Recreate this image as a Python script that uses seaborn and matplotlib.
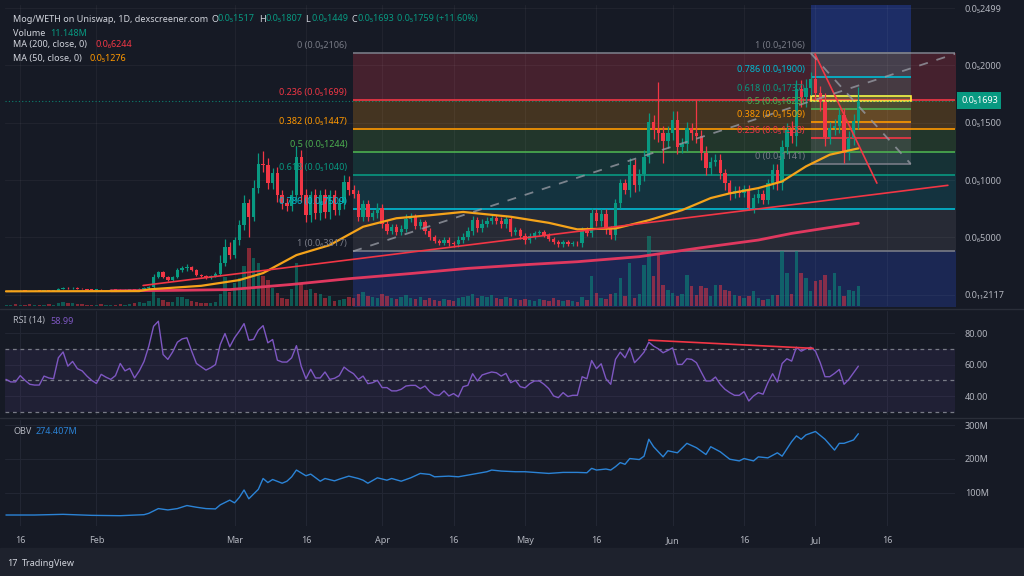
import numpy as np
import pandas as pd
import matplotlib
matplotlib.use("Agg")
import matplotlib.pyplot as plt
import matplotlib.transforms as mtransforms
from matplotlib.lines import Line2D
from matplotlib.patches import Rectangle
import seaborn as sns

# ---------------- data ----------------
# day 0 = 13 Jan 2024, prices in units where 1000 -> 0.0₅1000
closes = [
    33, 34, 32, 35, 34, 33, 35, 34, 36, 35,
    37, 52, 58, 55, 60, 54, 50, 45, 42, 44,
    40, 41, 43, 42, 40, 44, 45, 43, 50, 58,
    70, 157, 195, 152, 130, 155, 215, 235, 244, 215,
    175, 165, 150, 165, 185, 280, 413, 350, 477, 608,
    797, 680, 930, 1140, 1130, 970, 1058, 870, 800, 770,
    870, 1203, 869, 695, 868, 712, 870, 720, 870, 738,
    800, 986, 913, 880, 680, 790, 680, 710, 760, 620,
    560, 590, 545, 575, 660, 680, 600, 630, 560, 500,
    470, 455, 480, 450, 440, 480, 505, 560, 650, 580,
    620, 645, 670, 645, 615, 660, 550, 565, 515, 475,
    510, 540, 545, 520, 490, 460, 440, 460, 445, 455,
    448, 560, 540, 710, 640, 705, 570, 520, 797, 970,
    915, 1135, 956, 1050, 1205, 1508, 1436, 1410, 1340, 1410,
    1523, 1290, 1315, 1450, 1410, 1380, 1233, 1105, 1160, 1175,
    1058, 971, 880, 905, 890, 920, 753, 840, 880, 830,
    971, 1087, 975, 1290, 1436, 1380, 1790, 1720, 1800, 1880,
    1760, 1683, 1378, 1450, 1470, 1567, 1233, 1364, 1517, 1693,
]
# wick length above / below the candle body
wick_up = [
    3, 4, 3, 4, 3, 3, 4, 3, 4, 3,
    4, 8, 10, 6, 9, 5, 4, 3, 3, 3,
    3, 4, 3, 3, 4, 3, 3, 4, 5, 6,
    8, 25, 15, 10, 12, 10, 20, 15, 25, 10,
    10, 8, 10, 8, 10, 70, 75, 45, 30, 40,
    73, 40, 70, 100, 110, 60, 50, 60, 40, 40,
    40, 90, 60, 50, 40, 50, 40, 50, 40, 40,
    40, 60, 50, 40, 30, 40, 40, 30, 40, 35,
    30, 30, 25, 30, 40, 30, 25, 30, 20, 25,
    20, 20, 25, 20, 20, 30, 30, 30, 40, 30,
    40, 30, 30, 25, 30, 30, 30, 25, 20, 20,
    25, 20, 20, 20, 20, 15, 15, 20, 15, 15,
    15, 30, 30, 50, 40, 40, 40, 30, 40, 40,
    40, 60, 50, 50, 60, 80, 60, 420, 60, 60,
    80, 80, 50, 60, 50, 290, 60, 60, 40, 50,
    50, 40, 30, 40, 40, 40, 40, 40, 40, 30,
    40, 50, 50, 60, 60, 80, 80, 80, 80, 60,
    226, 60, 80, 60, 60, 60, 60, 60, 60, 114,
]
wick_dn = [
    3, 3, 3, 3, 3, 3, 3, 3, 3, 3,
    3, 5, 6, 5, 5, 4, 3, 3, 3, 3,
    3, 3, 3, 3, 3, 3, 3, 3, 4, 4,
    5, 15, 15, 10, 12, 8, 10, 15, 25, 10,
    10, 10, 12, 10, 10, 20, 30, 40, 30, 40,
    40, 175, 40, 40, 60, 50, 50, 60, 50, 40,
    40, 50, 60, 60, 60, 50, 60, 50, 60, 40,
    40, 50, 40, 40, 40, 40, 40, 30, 40, 40,
    30, 30, 25, 25, 30, 30, 30, 30, 30, 25,
    20, 25, 20, 25, 20, 20, 30, 30, 40, 30,
    30, 30, 30, 30, 30, 30, 40, 30, 30, 30,
    20, 20, 20, 20, 20, 20, 20, 25, 20, 20,
    20, 30, 30, 40, 40, 40, 40, 30, 40, 40,
    40, 60, 60, 50, 60, 60, 80, 80, 190, 60,
    60, 60, 50, 60, 60, 60, 60, 60, 60, 40,
    50, 60, 50, 40, 40, 40, 15, 40, 40, 40,
    40, 50, 60, 60, 60, 60, 80, 80, 80, 60,
    60, 80, 80, 60, 60, 60, 85, 60, 60, 68,
]
volume = [
    1, 1, 2, 1, 1, 2, 1, 1, 1, 2,
    1, 3, 4, 3, 3, 2, 2, 1, 1, 1,
    2, 1, 1, 1, 2, 1, 2, 3, 4, 3,
    5, 18, 8, 6, 4, 4, 9, 9, 7, 5,
    4, 3, 3, 3, 4, 12, 29, 14, 23, 28,
    40, 58, 48, 43, 30, 26, 18, 13, 8, 7,
    17, 43, 22, 16, 17, 13, 12, 8, 10, 5,
    6, 7, 9, 8, 12, 14, 10, 9, 8, 12,
    10, 8, 7, 9, 11, 8, 7, 9, 6, 8,
    6, 5, 7, 6, 5, 8, 9, 10, 12, 8,
    10, 9, 11, 8, 7, 9, 8, 7, 6, 7,
    6, 5, 7, 6, 5, 8, 6, 5, 6, 5,
    4, 9, 6, 30, 13, 8, 7, 12, 13, 28,
    10, 43, 8, 12, 41, 70, 30, 53, 21, 16,
    13, 10, 12, 31, 20, 11, 20, 18, 10, 21,
    21, 16, 15, 11, 10, 8, 10, 15, 8, 6,
    7, 11, 11, 55, 33, 12, 55, 33, 28, 15,
    25, 26, 31, 16, 33, 20, 10, 16, 15, 20,
]
rsi = [
    50.6, 49, 49, 53, 50, 47.5, 47, 47, 52.7, 51.5,
    51, 64.3, 68, 59, 62, 57.4, 56, 52.7, 50, 48,
    53.8, 52, 50.6, 53, 60.7, 56, 57.6, 51.5, 56, 62,
    71.7, 84.3, 87.5, 66.4, 63.3, 68, 74.2, 76.3, 77, 68.5,
    60.7, 58.6, 56.5, 58, 60, 72.7, 79.7, 71.3, 77, 81.2,
    86, 75.5, 76, 81.8, 84.7, 73.8, 75.9, 62.8, 61.6, 61.6,
    64.3, 72, 59, 51, 57, 51.5, 51.5, 55.3, 50.6, 51.3,
    53, 58.4, 56, 54.2, 50.6, 52.7, 47.9, 48.5, 50, 45.4,
    45.4, 43.3, 43.3, 44.3, 46.4, 46.8, 46.8, 44.7, 46.4, 42.8,
    40.7, 40.5, 43.3, 40.1, 41.6, 39.5, 46, 46.8, 54.2, 49.6,
    53.4, 54.4, 55.3, 54.8, 52.7, 54.4, 48.5, 50, 46, 45.2,
    47.9, 49.6, 49.6, 47.5, 44.7, 40.1, 39, 42.2, 39.7, 40.5,
    40.5, 52.3, 51, 62.6, 57.4, 60.5, 51, 47.5, 63.3, 67.9,
    64.3, 70.6, 61.2, 64.3, 67.9, 74.2, 71.7, 70, 67.5, 69,
    70.6, 60.1, 60.1, 63.7, 63.3, 61.2, 55.3, 49.6, 49.6, 52.1,
    47.5, 44.3, 42.2, 40.5, 40.5, 42.8, 36.9, 40.1, 42.2, 41.2,
    48.5, 54.2, 48.9, 60.7, 63.7, 62.2, 71, 68.5, 70, 71,
    68.5, 61.2, 52.3, 52.3, 54.4, 56.9, 47.5, 50.6, 54.8, 58.99,
]

ma50_days = [0, 28, 30, 41, 49, 54, 61, 68, 75, 82, 89, 96, 106, 114,
             120, 128, 135, 142, 148, 152, 158, 163, 168, 173, 179]
ma50_vals = [30, 32, 47, 78, 128, 189, 346, 433, 593, 667, 693, 722, 680, 627,
             570, 578, 650, 738, 843, 884, 930, 988, 1119, 1221, 1276]
ma200_days = [22, 35, 47, 60, 72, 85, 97, 109, 120, 133, 146, 158, 165, 172, 179]
ma200_vals = [35, 38, 45, 90, 140, 185, 230, 262, 288, 332, 410, 477, 535, 580, 624]

obv_days = [0, 6, 12, 18, 24, 29, 30, 32, 34, 36, 38, 40, 42, 44, 45, 47, 48, 49,
            50, 51, 53, 54, 55, 56, 58, 59, 60, 61, 63, 64, 66, 67, 69, 70, 72,
            74, 75, 76, 78, 80, 81, 83, 85, 87, 89, 90, 93, 95, 97, 99, 101, 102,
            104, 107, 109, 111, 114, 117, 120, 122, 123, 124, 126, 127, 128, 129,
            130, 131, 133, 134, 135, 136, 138, 139, 141, 143, 145, 147, 148, 150,
            152, 154, 155, 157, 158, 160, 162, 163, 165, 166, 167, 168, 170, 172,
            174, 175, 176, 178, 179]
obv_vals = [34, 34, 36, 33, 32, 35, 39, 53, 49, 53, 62, 57, 53, 52, 64, 78, 70, 86,
            108, 82, 110, 142, 130, 139, 128, 134, 147, 167, 150, 155, 134, 142, 135, 140, 149,
            142, 137, 128, 144, 137, 142, 134, 144, 157, 154, 147, 149, 147, 152, 157, 162, 167,
            164, 162, 162, 160, 157, 160, 160, 159, 172, 167, 170, 167, 177, 189,
            184, 201, 198, 208, 258, 236, 206, 224, 218, 246, 233, 213, 236, 221,
            199, 194, 201, 194, 206, 203, 218, 208, 251, 268, 258, 271, 281, 258,
            226, 246, 246, 256, 274.4]

# fibonacci drawings
fib_a_start = 72.9
fib_a_ratios = [0, 0.236, 0.382, 0.5, 0.618, 0.786, 1]
fib_a_prices = [2106, 1699, 1447, 1244, 1040, 751, 382]
fib_a_text = ["0.0₅2106", "0.0₅1699", "0.0₅1447", "0.0₅1244", "0.0₅1040", "0.0₆7509", "0.0₆3817"]
fib_a_colors = ["#787b86", "#f23645", "#ff9800", "#4caf50", "#089981", "#00bcd4", "#787b86"]
fib_a_fills = ["#45212e", "#443421", "#22362b", "#163236", "#14333f", "#272a35"]

fib_b_start, fib_b_end = 169, 190
fib_b_ratios = [1, 0.786, 0.618, 0.5, 0.382, 0.236, 0]
fib_b_prices = [2106, 1900, 1737, 1623, 1509, 1368, 1141]
fib_b_text = ["0.0₅2106", "0.0₅1900", "0.0₅1737", "0.0₅1623", "0.0₅1509", "0.0₅1368", "0.0₅1141"]
fib_b_colors = ["#787b86", "#00bcd4", "#089981", "#4caf50", "#ff9800", "#f23645", "#787b86"]

support_line = ([28.8, 197.8], [81, 954])
falling_line = ([169.9, 182.9], [2098, 973])
fib_a_diag = ([72.9, 199.3], [379, 2100])
fib_b_diag = ([169, 190], [2106, 1141])
rsi_div_line = ([135, 169.5], [75.5, 70.3])

price_ticks = [0, 500, 1000, 1500, 2000, 2499]
price_tick_labels = ["0.0₁₁2117", "0.0₆5000", "0.0₅1000", "0.0₅1500", "0.0₅2000", "0.0₅2499"]
date_ticks = [3, 19, 48, 63, 79, 94, 109, 124, 140, 155, 170, 185]
date_labels = ["16", "Feb", "Mar", "16", "Apr", "16", "May", "16", "Jun", "16", "Jul", "16"]
last_price = 1693

# ---------------- style ----------------
BG = "#161a25"
GRID = "#222633"
TXT = "#b2b5be"
UP, DN = "#089981", "#f23645"

sns.set_theme(style="dark", rc={
    "figure.facecolor": BG, "axes.facecolor": BG, "savefig.facecolor": BG,
    "axes.edgecolor": BG, "grid.color": GRID, "text.color": TXT,
    "xtick.color": TXT, "ytick.color": TXT,
})
plt.rcParams["font.family"] = ["Noto Sans", "DejaVu Sans"]
FS = 6.5

W, H = 1024, 576
fig = plt.figure(figsize=(W / 100, H / 100), dpi=100)


def rect(x0, y0, x1, y1):
    return [x0 / W, 1 - y1 / H, (x1 - x0) / W, (y1 - y0) / H]


PL, PR = 5, 955
ax_bg = fig.add_axes(rect(PL, 5, PR, 306))
ax_vol = fig.add_axes(rect(PL, 5, PR, 306), sharex=ax_bg)
ax = fig.add_axes(rect(PL, 5, PR, 306), sharex=ax_bg)
rax = fig.add_axes(rect(PL, 311, PR, 415), sharex=ax_bg)
oax = fig.add_axes(rect(PL, 420, PR, 526), sharex=ax_bg)

XMIN, XMAX = -0.2, 199.3
PMIN, PMAX = -98, 2526

# ---------------- candles ----------------
days = np.arange(len(closes))
opens = [closes[0]] + closes[:-1]   # dex candles open at the previous close
df = pd.DataFrame({"day": days, "open": opens, "close": closes,
                   "up": wick_up, "dn": wick_dn, "vol": volume})
df["top"] = df[["open", "close"]].max(axis=1)
df["bot"] = df[["open", "close"]].min(axis=1)
df["high"] = df["top"] + df["up"]
df["low"] = df["bot"] - df["dn"]
df["color"] = np.where(df["close"] >= df["open"], UP, DN)

# background bands of the big fib retracement
x1 = XMAX + 5
for i in range(6):
    ax_bg.fill_between([fib_a_start, x1], fib_a_prices[i + 1], fib_a_prices[i],
                       color=fib_a_fills[i], lw=0, zorder=0.2)
ax_bg.fill_between([fib_a_start, x1], PMIN - 50, fib_a_prices[-1], color="#1b2753", lw=0, zorder=0.2)
ax_bg.fill_between([fib_b_start, fib_b_end], fib_b_prices[0], PMAX + 50, color="#1d2d66", lw=0, zorder=0.2)
ax_bg.hlines(fib_a_prices, fib_a_start, x1, colors=fib_a_colors, lw=1.2, zorder=0.7)

# small fib box
for i in range(6):
    ax_bg.fill_between([fib_b_start, fib_b_end], fib_b_prices[i + 1], fib_b_prices[i],
                       color=fib_b_colors[i + 1], alpha=0.13, lw=0, zorder=0.3)
ax_bg.fill_between([fib_b_start, fib_b_end], fib_b_prices[-1], fib_b_prices[0],
                   color="white", alpha=0.05, lw=0, zorder=0.3)
ax_bg.hlines(fib_b_prices, fib_b_start, fib_b_end, colors=fib_b_colors, lw=1.2, zorder=0.8)
ax_bg.add_patch(Rectangle((fib_b_start, last_price), fib_b_end - fib_b_start, fib_b_prices[2] - last_price,
                          fc="#ffeb3b", alpha=0.15, ec="none", zorder=0.9))
ax_bg.add_patch(Rectangle((fib_b_start, last_price), fib_b_end - fib_b_start, fib_b_prices[2] - last_price,
                          fc="none", ec="#ffeb3b", lw=1.2, zorder=0.9))

ax_bg.set_xlim(XMIN, XMAX)
ax_bg.set_ylim(PMIN, PMAX)
ax_bg.set_axisbelow(True)
ax_bg.set_yticks(price_ticks)
ax_bg.grid(True, color="white", alpha=0.045, lw=0.8)
ax_bg.tick_params(labelleft=False, labelbottom=False, length=0)

# volume
ax_vol.bar(df["day"], df["vol"], width=0.72, color=df["color"], alpha=0.5, lw=0)
ax_vol.set_ylim(0, 301)
ax_vol.axis("off")
ax_vol.patch.set_visible(False)

# candles
ax.patch.set_visible(False)
ax.vlines(df["day"], df["low"], df["high"], colors=df["color"], lw=0.9, zorder=2)
ax.bar(df["day"], (df["top"] - df["bot"]).clip(lower=4), bottom=df["bot"], width=0.7,
       color=df["color"], lw=0, zorder=2)

sns.lineplot(x=ma200_days, y=ma200_vals, ax=ax, color="#e0385f", lw=2.0, zorder=3, estimator=None)
sns.lineplot(x=ma50_days, y=ma50_vals, ax=ax, color="#f5a31a", lw=1.6, zorder=3, estimator=None)
ax.plot(*support_line, color="#f23645", lw=1.2, zorder=3)
ax.plot(*falling_line, color="#f23645", lw=1.2, zorder=3)
ax.plot(*fib_a_diag, color="#9598a1", lw=1.3, ls=(0, (5, 5)), alpha=0.8, zorder=3)
ax.plot(*fib_b_diag, color="#9598a1", lw=1.3, ls=(0, (5, 5)), alpha=0.8, zorder=3)
ax.axhline(last_price, color="#089981", lw=0.8, ls=(0, (1, 2)), alpha=0.8, zorder=1)

for r, p, t, c in zip(fib_a_ratios, fib_a_prices, fib_a_text, fib_a_colors):
    ax.annotate(f"{r:g} ({t})", xy=(fib_a_start, p), xytext=(-6, 7.5), textcoords="offset pixels",
                ha="right", va="center", color=c, fontsize=FS, zorder=4)
for r, p, t, c in zip(fib_b_ratios, fib_b_prices, fib_b_text, fib_b_colors):
    ax.annotate(f"{r:g} ({t})", xy=(fib_b_start, p), xytext=(-6, 7.5), textcoords="offset pixels",
                ha="right", va="center", color=c, fontsize=FS, zorder=4)

ax.set_xlim(XMIN, XMAX)
ax.set_ylim(PMIN, PMAX)
ax.yaxis.tick_right()
ax.set_yticks(price_ticks)
ax.set_yticklabels(price_tick_labels)
ax.tick_params(axis="y", length=0, pad=7, labelsize=FS, labelcolor=TXT)
ax.tick_params(axis="x", labelbottom=False, length=0)
ax.set_xlabel("")
ax.set_ylabel("")
ax.grid(False)

blend = mtransforms.blended_transform_factory(ax.transAxes, ax.transData)
ax.annotate("0.0₅1693", xy=(1, last_price), xycoords=blend, xytext=(6, 0), textcoords="offset pixels",
            ha="left", va="center", color="white", fontsize=FS,
            bbox=dict(boxstyle="square,pad=0.4", fc="#089981", ec="none"))

# ---------------- RSI ----------------
rax.axhspan(30, 70, color="#7e57c2", alpha=0.1, lw=0)
for lvl in [70, 50, 30]:
    rax.axhline(lvl, color="#787b86", lw=0.9, ls=(0, (3, 3)))
sns.lineplot(x=days, y=rsi, ax=rax, color="#7e57c2", lw=1.0, estimator=None)
rax.plot(*rsi_div_line, color="#f23645", lw=1.2)
rax.set_ylim(28, 94)
rax.yaxis.tick_right()
rax.set_yticks([40, 60, 80])
rax.set_yticklabels(["40.00", "60.00", "80.00"])
rax.tick_params(axis="y", length=0, pad=7, labelsize=FS, labelcolor=TXT)
rax.tick_params(axis="x", labelbottom=False, length=0)
rax.grid(True, color=GRID, lw=0.8)
rax.set_xlabel("")
rax.set_ylabel("")

# ---------------- OBV ----------------
sns.lineplot(x=obv_days, y=obv_vals, ax=oax, color="#2b83d6", lw=1.0, estimator=None)
oax.set_ylim(1.5, 315)
oax.yaxis.tick_right()
oax.set_yticks([100, 200, 300])
oax.set_yticklabels(["100M", "200M", "300M"])
oax.tick_params(axis="y", length=0, pad=7, labelsize=FS, labelcolor=TXT)
oax.set_xticks(date_ticks)
oax.set_xticklabels(date_labels)
oax.tick_params(axis="x", length=0, pad=7, labelsize=FS, labelcolor=TXT)
oax.grid(True, color=GRID, lw=0.8)
oax.set_xlim(XMIN, XMAX)
oax.set_xlabel("")
oax.set_ylabel("")

for a in [ax_bg, ax, rax, oax]:
    for s in a.spines.values():
        s.set_visible(False)

# pane separators and bottom strip
for yy in [308.5, 417.5]:
    fig.add_artist(Line2D([0, 1], [1 - yy / H, 1 - yy / H], color="#2a2e39", lw=1))
fig.patches.append(Rectangle((0, 0), 1, 28 / H, transform=fig.transFigure, color="#1e222d", zorder=-1))


# ---------------- legend texts ----------------
def ftext(x, y, s, color="#d1d4dc", **kw):
    fig.text(x / W, 1 - y / H, s, color=color, fontsize=FS, va="center", ha="left", **kw)


ftext(13, 19, "Mog/WETH on Uniswap, 1D, dexscreener.com")
ftext(212, 19, "O")
ftext(218, 19, "0.0₅1517", UP)
ftext(259, 19, "H")
ftext(266, 19, "0.0₅1807", UP)
ftext(305, 19, "L")
ftext(311, 19, "0.0₅1449", UP)
ftext(351, 19, "C")
ftext(358, 19, "0.0₅1693", UP)
ftext(397, 19, "0.0₅1759 (+11.60%)", UP)
ftext(13, 33, "Volume")
ftext(50, 33, "11.148M", UP)
ftext(13, 45, "MA (200, close, 0)")
ftext(95, 45, "0.0₆6244", DN)
ftext(13, 58, "MA (50, close, 0)")
ftext(90, 58, "0.0₅1276", "#ff9800")
ftext(13, 321, "RSI (14)", TXT)
ftext(50, 321, "58.99", "#7e57c2")
ftext(13, 432, "OBV", TXT)
ftext(36, 432, "274.407M", "#2b83d6")
ftext(7, 563, "17", "#d1d4dc", fontweight="bold")
ftext(22, 563, "TradingView", "#d1d4dc")

fig.savefig("out.png", dpi=100)
